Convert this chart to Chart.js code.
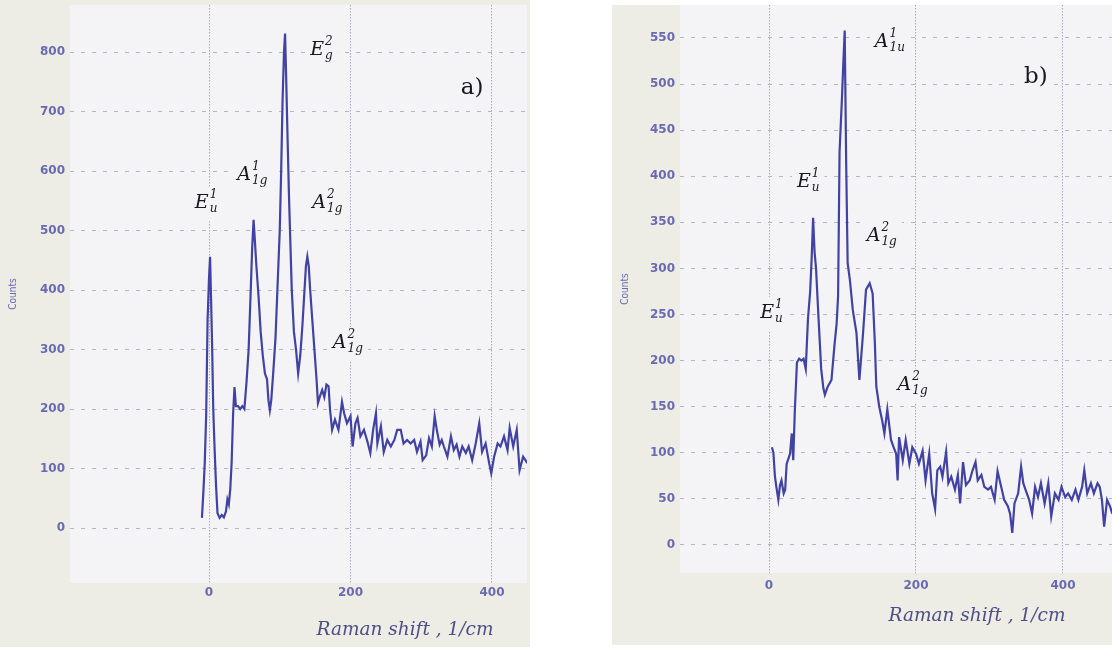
<!DOCTYPE html>
<html>
<head>
<meta charset="utf-8">
<script src="https://cdn.jsdelivr.net/npm/chart.js@4"></script>
<style>
  html, body { margin: 0; padding: 0; background: #fff; }
  body { width: 1112px; height: 652px; position: relative; overflow: hidden; }
  .panel { position: absolute; background: #edece5; }
  #pa { left: 0; top: 0; width: 530px; height: 647px; }
  #pb { left: 612px; top: 5px; width: 500px; height: 640px; }
</style>
</head>
<body>
<div class="panel" id="pa"><canvas id="chartA" width="530" height="647"></canvas></div>
<div class="panel" id="pb"><canvas id="chartB" width="500" height="640"></canvas></div>
<script>
// Raman spectra
const xTicks = [0, 200, 400];
const yTicksA = [0, 100, 200, 300, 400, 500, 600, 700, 800];
const yTicksB = [0, 50, 100, 150, 200, 250, 300, 350, 400, 450, 500, 550];

// panel a)
const shiftA = [-10, -8, -6, -4, -2, 0, 1.5, 3, 4.5, 6, 8, 10, 12, 15, 18, 21, 24, 26, 28, 30,
  32, 34, 36, 38, 41, 44, 47, 50, 53, 56, 59, 61, 63, 65, 67, 70, 73, 76, 79, 82,
  84, 86, 88, 91, 94, 97, 100, 102, 104, 106, 107.5, 109, 111, 113, 115, 117, 120, 123, 126, 129,
  132, 135, 137, 139, 141, 143, 146, 149, 152, 154, 157, 160, 163, 166, 169, 171, 174, 178, 183, 188,
  191, 195, 200, 203, 207, 210, 214, 219, 224, 228, 232, 236, 238, 243, 247, 252, 257, 262, 266, 271,
  275, 280, 285, 290, 294, 299, 302, 307, 311, 315, 319, 322, 326, 329, 332, 337, 342, 346, 350, 354,
  358, 363, 367, 372, 377, 382, 386, 391, 396, 399, 403, 408, 412, 417, 422, 425, 430, 435, 439, 444, 450];
const countsA = [17, 60, 110, 190, 350, 420, 456, 380, 300, 200, 130, 70, 25, 17, 22, 18, 28, 48, 40, 65,
  110, 190, 237, 205, 205, 200, 205, 200, 245, 300, 400, 470, 518, 480, 440, 390, 330, 290, 260, 250,
  215, 198, 215, 265, 320, 410, 500, 600, 720, 800, 831, 760, 658, 560, 480, 400, 330, 300, 260, 290,
  340, 400, 440, 456, 440, 400, 350, 300, 250, 210, 222, 232, 220, 241, 238, 200, 165, 182, 165, 212,
  193, 176, 188, 137, 176, 185, 154, 165, 145, 126, 165, 193, 142, 171, 128, 148, 137, 148, 165, 165,
  142, 148, 142, 148, 128, 145, 114, 122, 151, 137, 188, 165, 140, 148, 137, 120, 154, 131, 140, 120,
  137, 126, 137, 114, 142, 176, 128, 142, 109, 92, 120, 142, 137, 154, 131, 168, 137, 165, 97, 120, 109];

// panel b)
const shiftB = [4, 6, 8, 10, 12.7, 15, 17, 20, 22, 24, 27, 28.6, 31, 33, 35, 38, 41, 44, 47, 50,
  53, 56, 58, 60, 62, 64, 67, 71, 74, 76, 80, 85, 89, 92, 94, 96, 99, 101, 103, 105,
  107, 110, 114, 119, 123, 128, 132, 137, 141, 144, 146, 150, 154, 157, 161, 166, 170, 173, 175, 177,
  182, 186, 191, 195, 200, 204, 209, 213, 218, 222, 226, 229, 233, 236, 241, 244, 248, 253, 257, 260,
  264, 268, 273, 277, 281, 284, 289, 293, 298, 302, 307, 311, 316, 320, 325, 328, 331, 334, 339, 343,
  346, 349, 354, 358, 362, 366, 370, 375, 380, 384, 389, 394, 398, 403, 407, 412, 417, 421, 426, 429,
  433, 438, 442, 447, 450, 453, 456, 460, 464, 467];
const countsB = [106, 100, 75, 63, 49, 65, 70, 56, 60, 88, 95, 99, 121, 92, 143, 198, 202, 200, 202, 191,
  245, 275, 310, 355, 318, 300, 252, 191, 170, 163, 172, 179, 216, 240, 270, 426, 480, 520, 558, 415,
  306, 288, 255, 230, 179, 230, 277, 284, 273, 220, 172, 150, 135, 121, 147, 114, 105, 99, 70, 117,
  92, 114, 88, 106, 99, 88, 102, 70, 99, 56, 39, 81, 85, 74, 101, 67, 74, 60, 76, 45,
  90, 65, 70, 81, 90, 70, 76, 63, 60, 63, 49, 80, 63, 49, 42, 34, 13, 45, 56, 85,
  67, 60, 49, 34, 63, 52, 67, 45, 67, 31, 56, 49, 63, 52, 56, 49, 60, 49, 63, 81,
  56, 67, 56, 67, 63, 49, 20, 49, 42, 34];

// mode labels, anchored in data units (left edge, middle of the main letter)
const modesA = [
  { main: 'E', sup: '1', sub: 'u', x: -20, y: 546 },
  { main: 'A', sup: '1', sub: '1g', x: 40, y: 593 },
  { main: 'E', sup: '2', sub: 'g', x: 143, y: 803 },
  { main: 'A', sup: '2', sub: '1g', x: 146, y: 546 },
  { main: 'A', sup: '2', sub: '1g', x: 175, y: 311 },
  { main: 'a)', x: 356, y: 739, plain: true }
];
const modesB = [
  { main: 'A', sup: '1', sub: '1u', x: 144, y: 546 },
  { main: 'E', sup: '1', sub: 'u', x: 38, y: 394 },
  { main: 'A', sup: '2', sub: '1g', x: 133, y: 335 },
  { main: 'E', sup: '1', sub: 'u', x: -12, y: 252 },
  { main: 'A', sup: '2', sub: '1g', x: 175, y: 174 },
  { main: 'b)', x: 347, y: 508, plain: true }
];

const tickColor = '#6a6ab2';
const labelInk = '#18181e';

function toPoints(xs, ys) {
  return xs.map((x, i) => ({ x: x, y: ys[i] }));
}

function fixTicks(values) {
  return scale => { scale.ticks = values.map(v => ({ value: v })); };
}

function modeBox(ctx, m) {
  if (m.plain) {
    ctx.font = '23px "DejaVu Serif"';
    return ctx.measureText(m.main).width;
  }
  ctx.font = 'italic 19px "DejaVu Serif"';
  const w = ctx.measureText(m.main).width;
  ctx.font = 'italic 12px "DejaVu Serif"';
  const w2 = Math.max(ctx.measureText(m.sup).width, ctx.measureText(m.sub).width);
  return w + 1 + w2;
}

const figurePlugin = {
  id: 'figure',
  beforeDraw(chart, args, opts) {
    const { ctx, chartArea: a } = chart;
    ctx.save();
    ctx.fillStyle = opts.plotBg;
    ctx.fillRect(a.left, a.top, a.right - a.left, a.bottom - a.top);
    ctx.restore();
  },
  beforeDatasetsDraw(chart, args, opts) {
    // the labels in the source sit on opaque patches that hide the grid
    const { ctx, scales } = chart;
    ctx.save();
    ctx.fillStyle = opts.plotBg;
    opts.modes.forEach(m => {
      const px = scales.x.getPixelForValue(m.x);
      const py = scales.y.getPixelForValue(m.y);
      const w = modeBox(ctx, m);
      ctx.fillRect(px - 5, py - 16, w + 10, 34);
    });
    ctx.restore();
  },
  afterDatasetsDraw(chart, args, opts) {
    const { ctx, scales } = chart;
    ctx.save();
    ctx.fillStyle = labelInk;
    ctx.textAlign = 'left';
    ctx.textBaseline = 'middle';
    opts.modes.forEach(m => {
      const px = scales.x.getPixelForValue(m.x);
      const py = scales.y.getPixelForValue(m.y);
      if (m.plain) {
        ctx.font = '23px "DejaVu Serif"';
        ctx.fillText(m.main, px, py);
        return;
      }
      ctx.font = 'italic 19px "DejaVu Serif"';
      ctx.fillText(m.main, px, py);
      const w = ctx.measureText(m.main).width;
      ctx.font = 'italic 12px "DejaVu Serif"';
      ctx.fillText(m.sup, px + w + 1, py - 8);
      ctx.fillText(m.sub, px + w + 1, py + 6);
    });
    ctx.restore();
  },
  afterDraw(chart, args, opts) {
    const ctx = chart.ctx;
    ctx.save();
    ctx.fillStyle = '#4f4f88';
    ctx.font = 'italic 18.5px "DejaVu Serif"';
    ctx.textAlign = 'center';
    ctx.textBaseline = 'middle';
    ctx.fillText('Raman shift , 1/cm', opts.titleX, opts.titleY);
    ctx.restore();
  }
};

function makeChart(id, cfg) {
  new Chart(document.getElementById(id), {
    type: 'line',
    data: {
      datasets: [{
        data: toPoints(cfg.xs, cfg.ys),
        borderColor: '#4242a2',
        borderWidth: 2.2,
        pointRadius: 0,
        tension: 0,
        fill: false
      }]
    },
    options: {
      responsive: false,
      animation: false,
      events: [],
      layout: { padding: cfg.padding },
      plugins: {
        legend: { display: false },
        tooltip: { enabled: false },
        figure: { plotBg: '#f4f4f6', modes: cfg.modes, titleX: cfg.titleX, titleY: cfg.titleY }
      },
      scales: {
        x: {
          type: 'linear',
          min: cfg.xMin,
          max: cfg.xMax,
          afterBuildTicks: fixTicks(xTicks),
          afterFit: s => {
            s.height = cfg.xAxisH;
            s.paddingLeft = 0;
            s.paddingRight = 0;
          },
          grid: { color: '#a6a6bc', lineWidth: 1, drawTicks: false },
          border: { display: false, dash: [1.5, 1.5] },
          ticks: {
            color: tickColor,
            padding: cfg.xPad,
            maxRotation: 0,
            font: { family: 'DejaVu Sans', size: 12, weight: 'bold' }
          }
        },
        y: {
          min: cfg.yMin,
          max: cfg.yMax,
          afterBuildTicks: fixTicks(cfg.yTicks),
          afterFit: s => {
            s.width = cfg.yAxisW;
            s.paddingTop = 0;
            s.paddingBottom = 0;
          },
          grid: { color: '#b4b4c2', lineWidth: 1, drawTicks: false },
          border: { display: false, dash: [4, 7] },
          ticks: {
            color: tickColor,
            padding: 5,
            font: { family: 'DejaVu Sans', size: 12, weight: 'bold' }
          },
          title: {
            display: true,
            text: 'Counts',
            color: tickColor,
            padding: 3,
            font: { family: 'Liberation Sans Narrow, DejaVu Sans Condensed', size: 10 }
          }
        }
      }
    },
    plugins: [figurePlugin]
  });
}

makeChart('chartA', {
  xs: shiftA, ys: countsA, modes: modesA, yTicks: yTicksA,
  xMin: -196.5, xMax: 449.5, yMin: -92.4, yMax: 879,
  padding: { left: 4, top: 5, right: 3, bottom: 0 },
  yAxisW: 66, xAxisH: 64, xPad: 3,
  titleX: 405, titleY: 630
});

makeChart('chartB', {
  xs: shiftB, ys: countsB, modes: modesB, yTicks: yTicksB,
  xMin: -121.1, xMax: 466.7, yMin: -30.4, yMax: 585.8,
  padding: { left: 4, top: 0, right: 0, bottom: 0 },
  yAxisW: 64, xAxisH: 72, xPad: 6,
  titleX: 365, titleY: 611
});
</script>
</body>
</html>
